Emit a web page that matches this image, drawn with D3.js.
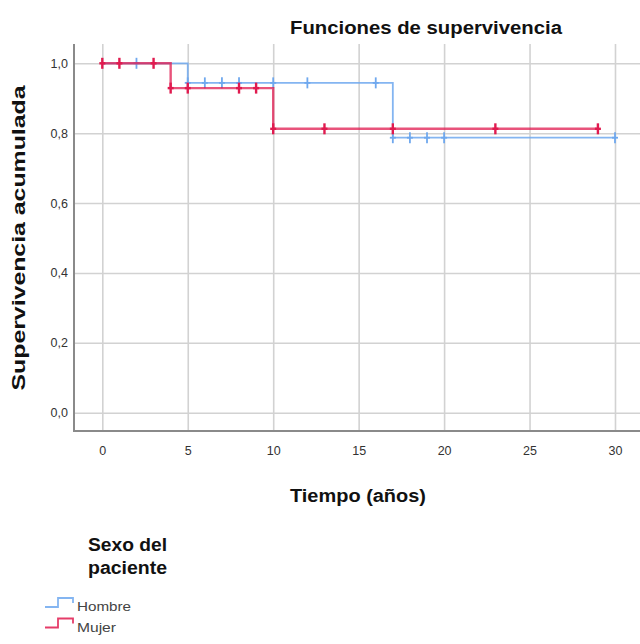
<!DOCTYPE html>
<html>
<head>
<meta charset="utf-8">
<script src="https://cdn.jsdelivr.net/npm/d3@7"></script>
<style>
  html, body { margin: 0; padding: 0; background: #fff; }
  svg { display: block; font-family: "Liberation Sans", Arial, sans-serif; }
  .grid line { stroke: #d2d2d2; stroke-width: 1.6; }
  .grid .domain { display: none; }
  .tick text { fill: #333; font-size: 12.5px; }
  .axis-line { stroke: #8a8a8a; stroke-width: 2; }
  .title { font-weight: bold; font-size: 18px; fill: #111; }
</style>
</head>
<body>
<div id="chart"></div>
<script>
// Kaplan-Meier curves
const groups = ["Hombre", "Mujer"];
const colors = ["#6fa8ee", "#e01a4f"];

const hombreSteps = [[0, 1], [5, 0.944], [17, 0.787], [30, 0.787]];
const hombreCensored = [2, 5, 6, 7, 8, 10, 12, 16, 17, 18, 19, 20, 30];

const mujerSteps = [[0, 1], [4, 0.929], [10, 0.8125], [29, 0.8125]];
const mujerCensored = [0, 1, 3, 4, 5, 8, 9, 10, 13, 17, 23, 29];

const xTicks = [0, 5, 10, 15, 20, 25, 30];
const yTicks = [0, 0.2, 0.4, 0.6, 0.8, 1.0];

const W = 640, H = 644;
const plot = { left: 74, right: 640, top: 44, bottom: 431 };

const svg = d3.select("#chart").append("svg")
    .attr("width", W).attr("height", H);

const x = d3.scaleLinear().domain([0, 30]).range([102.3, 615]);
const y = d3.scaleLinear().domain([0, 1]).range([412.7, 63.3]);

// grid + tick labels
svg.append("g").attr("class", "grid")
    .attr("transform", `translate(0,${plot.bottom})`)
    .call(d3.axisBottom(x).tickValues(xTicks).tickSize(-(plot.bottom - plot.top)).tickPadding(15).tickFormat(d3.format("d")));

svg.append("g").attr("class", "grid")
    .attr("transform", `translate(${plot.left},0)`)
    .call(d3.axisLeft(y).tickValues(yTicks).tickSize(-(plot.right - plot.left)).tickPadding(6)
        .tickFormat(d => d3.format(".1f")(d).replace(".", ",")));

svg.append("line").attr("class", "axis-line")
    .attr("x1", plot.left).attr("x2", plot.left).attr("y1", plot.top).attr("y2", plot.bottom + 1);
svg.append("line").attr("class", "axis-line")
    .attr("x1", plot.left - 1).attr("x2", plot.right).attr("y1", plot.bottom).attr("y2", plot.bottom);

// survival value at time t for a step list
function survAt(steps, t) {
    let s = steps[0][1];
    steps.forEach(p => { if (p[0] <= t) s = p[1]; });
    return s;
}

const stepLine = d3.line().x(d => x(d[0])).y(d => y(d[1])).curve(d3.curveStepAfter);

const series = [
    { steps: hombreSteps, censored: hombreCensored, color: colors[0], width: 1.8, op: 0.85 },
    { steps: mujerSteps, censored: mujerCensored, color: colors[1], width: 2.4, op: 0.75 }
];

series.forEach(s => {
    svg.append("path")
        .attr("d", stepLine(s.steps))
        .attr("fill", "none")
        .attr("stroke", s.color)
        .attr("stroke-width", s.width)
        .attr("stroke-opacity", s.op);

    const g = svg.append("g").attr("stroke", s.color).attr("stroke-width", s.width);
    s.censored.forEach(t => {
        const cx = x(t), cy = y(survAt(s.steps, t));
        g.append("line").attr("x1", cx).attr("x2", cx).attr("y1", cy - 5.5).attr("y2", cy + 5.5);
        g.append("line").attr("x1", cx - 3).attr("x2", cx + 3).attr("y1", cy).attr("y2", cy);
    });
});

// titles
svg.append("text").attr("class", "title")
    .attr("x", 290).attr("y", 34)
    .attr("textLength", 272).attr("lengthAdjust", "spacingAndGlyphs")
    .text("Funciones de supervivencia");

svg.append("text").attr("class", "title")
    .attr("transform", "translate(25,238) rotate(-90)")
    .attr("text-anchor", "middle")
    .attr("textLength", 305).attr("lengthAdjust", "spacingAndGlyphs")
    .text("Supervivencia acumulada");

svg.append("text").attr("class", "title")
    .attr("x", 290).attr("y", 502)
    .attr("textLength", 136).attr("lengthAdjust", "spacingAndGlyphs")
    .text("Tiempo (años)");

// legend
const legend = svg.append("g");
legend.append("text").attr("class", "title").attr("x", 88).attr("y", 551)
    .attr("textLength", 79).attr("lengthAdjust", "spacingAndGlyphs").text("Sexo del");
legend.append("text").attr("class", "title").attr("x", 88).attr("y", 574)
    .attr("textLength", 79).attr("lengthAdjust", "spacingAndGlyphs").text("paciente");

const itemWidths = [54, 39];
groups.forEach((name, i) => {
    const yy = 607 + i * 20.5;
    legend.append("path")
        .attr("d", `M45,${yy}H58V${yy - 9}H73V${yy - 4}`)
        .attr("fill", "none").attr("stroke", colors[i]).attr("stroke-width", 1.8)
        .attr("stroke-opacity", 0.85);
    legend.append("text")
        .attr("x", 77).attr("y", yy + 4)
        .attr("font-size", 13).attr("fill", "#444")
        .attr("textLength", itemWidths[i]).attr("lengthAdjust", "spacingAndGlyphs")
        .text(name);
});
</script>
</body>
</html>
